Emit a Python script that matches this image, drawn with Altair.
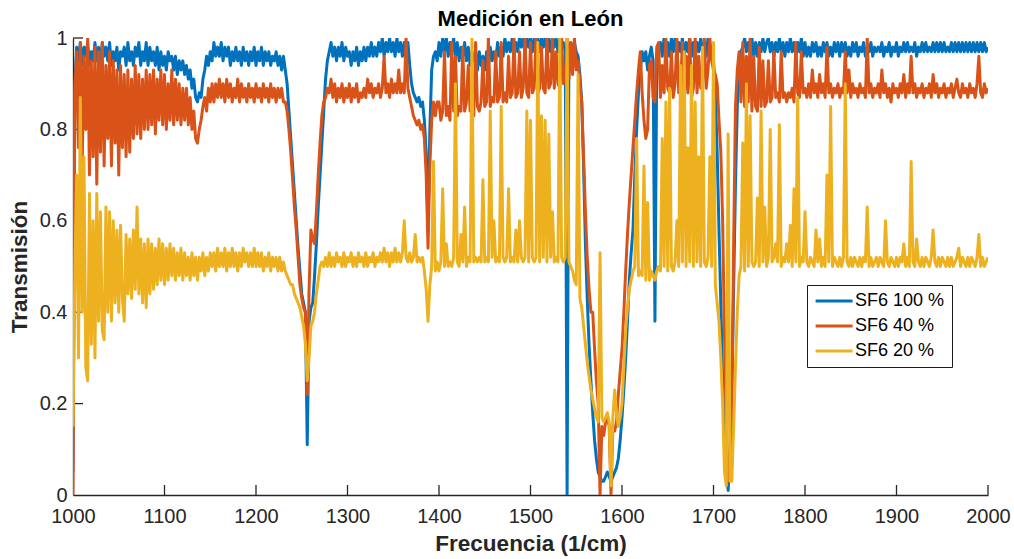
import altair as alt
import pandas as pd

FREQ_START = 1000
FREQ_STEP = 2  # cm^-1 between samples

# Transmission values in percent, one value every 2 cm^-1.
# Each row = 20 samples = 40 cm^-1; each array = 200 cm^-1.
blue_1000 = [5, 90, 98, 95, 99, 94, 98, 96, 99, 94, 97, 95, 99, 95, 98, 94, 99, 96, 98, 95,
             99, 94, 97, 95, 98, 93, 97, 96, 98, 94, 99, 95, 97, 94, 98, 96, 99, 94, 97, 95,
             99, 94, 98, 95, 97, 94, 98, 93, 97, 94, 96, 93, 97, 95, 96, 93, 96, 92, 95, 93,
             95, 92, 94, 91, 93, 89, 91, 87, 86, 88, 87, 91, 93, 96, 94, 97, 95, 99, 96, 98,
             96, 99, 95, 98, 96, 98, 94, 97, 95, 98, 95, 97, 94, 98, 95, 97, 94, 97, 95, 98]
blue_1200 = [94, 97, 95, 98, 94, 97, 95, 97, 94, 96, 95, 97, 94, 96, 93, 96, 93, 90, 84, 78,
             72, 66, 60, 54, 49, 44, 42, 40, 11, 38, 41, 42, 48, 55, 63, 70, 77, 84, 91, 95,
             97, 99, 96, 98, 95, 98, 96, 99, 95, 98, 96, 97, 94, 97, 95, 98, 94, 97, 95, 98,
             95, 98, 96, 99, 96, 98, 96, 99, 97, 100, 96, 99, 97, 100, 97, 99, 96, 100, 97, 99,
             96, 99, 97, 99, 94, 90, 88, 87, 86, 87, 85, 86, 82, 75, 58, 80, 93, 96, 97, 95]
blue_1400 = [99, 96, 100, 97, 100, 96, 99, 97, 100, 96, 99, 95, 98, 96, 99, 95, 98, 94, 97, 95,
             97, 93, 97, 94, 96, 93, 97, 94, 98, 95, 97, 95, 99, 96, 98, 96, 100, 97, 99, 97,
             100, 97, 99, 97, 100, 98, 100, 97, 100, 98, 100, 97, 100, 98, 100, 97, 100, 98, 100, 97,
             100, 97, 100, 98, 100, 97, 100, 98, 99, 97, 0, 98, 99, 97, 99, 97, 96, 92, 86, 72,
             55, 43, 33, 25, 18, 12, 8, 5, 4, 3, 3, 4, 5, 4, 3, 4, 5, 6, 8, 12]
blue_1600 = [17, 23, 30, 38, 47, 53, 58, 70, 80, 88, 93, 97, 95, 97, 93, 96, 98, 95, 38, 96,
             97, 99, 96, 100, 97, 99, 96, 100, 97, 100, 96, 99, 97, 100, 96, 99, 97, 100, 96, 99,
             96, 99, 97, 100, 97, 99, 96, 100, 97, 98, 95, 88, 75, 58, 42, 25, 12, 5, 1, 8,
             22, 45, 68, 85, 93, 97, 98, 100, 97, 99, 97, 100, 96, 99, 96, 99, 97, 100, 97, 99,
             100, 97, 99, 96, 99, 97, 100, 97, 99, 96, 99, 97, 100, 97, 99, 96, 99, 97, 100, 96]
blue_1800 = [99, 96, 98, 96, 99, 97, 99, 96, 98, 96, 99, 97, 99, 96, 98, 96, 99, 97, 99, 96,
             99, 97, 99, 96, 98, 96, 99, 97, 99, 96, 98, 97, 99, 96, 98, 97, 99, 96, 98, 97,
             98, 97, 99, 96, 98, 97, 99, 96, 98, 97, 99, 96, 98, 97, 99, 97, 99, 97, 98, 97,
             99, 96, 98, 97, 99, 97, 99, 97, 98, 97, 99, 97, 99, 97, 99, 97, 99, 97, 98, 97,
             99, 97, 99, 97, 99, 97, 99, 97, 99, 97, 99, 97, 99, 97, 99, 97, 99, 97, 99, 97,
             98]

orange_1000 = [0, 88, 97, 76, 99, 72, 96, 80, 100, 70, 95, 74, 98, 68, 97, 75, 99, 72, 94, 78,
               97, 72, 95, 77, 93, 70, 94, 76, 92, 74, 93, 75, 91, 78, 94, 79, 92, 78, 91, 80,
               93, 80, 92, 81, 93, 79, 91, 82, 93, 81, 92, 80, 90, 82, 93, 81, 91, 82, 90, 81,
               89, 82, 89, 81, 87, 80, 84, 78, 77, 80, 82, 85, 87, 84, 89, 86, 90, 86, 90, 87,
               91, 87, 90, 86, 91, 87, 90, 86, 89, 87, 91, 86, 90, 87, 89, 86, 90, 87, 89, 86]
orange_1200 = [90, 87, 89, 86, 90, 87, 89, 86, 90, 87, 89, 86, 89, 87, 89, 86, 86, 84, 80, 75,
               69, 63, 58, 52, 46, 43, 41, 40, 22, 45, 58, 56, 55, 62, 70, 77, 83, 86, 87, 89,
               88, 91, 87, 90, 86, 89, 87, 90, 86, 89, 87, 90, 86, 89, 87, 90, 86, 88, 87, 89,
               87, 91, 88, 90, 87, 89, 88, 90, 87, 89, 96, 88, 90, 87, 91, 88, 90, 88, 93, 88,
               90, 88, 100, 89, 87, 85, 83, 82, 81, 82, 80, 81, 78, 70, 54, 72, 82, 86, 83, 86]
orange_1400 = [86, 82, 84, 97, 83, 85, 82, 99, 84, 96, 83, 85, 84, 98, 84, 86, 94, 84, 85, 83,
               99, 85, 84, 86, 95, 85, 86, 100, 85, 87, 86, 97, 86, 87, 99, 86, 88, 86, 96, 87,
               88, 100, 87, 88, 97, 87, 89, 100, 88, 87, 99, 88, 89, 100, 88, 89, 98, 89, 88, 100,
               89, 90, 100, 89, 97, 90, 89, 100, 90, 91, 100, 91, 99, 92, 100, 93, 95, 90, 86, 74,
               62, 52, 45, 40, 40, 32, 25, 20, 0, 15, 13, 16, 17, 15, 0, 15, 14, 16, 22, 27]
orange_1600 = [32, 40, 49, 57, 64, 70, 76, 82, 88, 93, 97, 88, 82, 78, 80, 94, 95, 87, 86, 98,
               99, 87, 94, 88, 100, 89, 88, 97, 87, 90, 100, 88, 89, 99, 87, 96, 88, 100, 87, 89,
               100, 88, 96, 89, 90, 100, 89, 93, 100, 95, 93, 92, 90, 82, 75, 60, 35, 15, 3, 8,
               18, 55, 85, 93, 97, 86, 99, 85, 96, 86, 100, 84, 96, 85, 84, 98, 85, 95, 85, 86,
               95, 86, 87, 97, 87, 88, 86, 97, 87, 88, 86, 88, 87, 89, 86, 99, 88, 87, 97, 88]
orange_1800 = [89, 87, 90, 87, 93, 88, 90, 87, 92, 88, 90, 87, 98, 88, 90, 87, 89, 88, 90, 87,
               89, 88, 97, 88, 93, 87, 90, 88, 89, 87, 90, 88, 89, 87, 100, 88, 90, 87, 89, 88,
               90, 87, 93, 88, 90, 87, 89, 86, 90, 88, 89, 87, 90, 88, 92, 87, 90, 88, 96, 88,
               90, 87, 89, 88, 90, 87, 89, 88, 90, 87, 92, 88, 90, 87, 89, 88, 90, 87, 89, 88,
               90, 87, 89, 91, 88, 87, 90, 88, 89, 87, 90, 88, 89, 87, 90, 96, 88, 87, 90, 88,
               89]

yellow_1000 = [15, 48, 70, 30, 87, 40, 74, 28, 25, 66, 33, 60, 30, 66, 38, 62, 36, 34, 63, 40,
               62, 38, 60, 42, 58, 40, 59, 43, 38, 57, 44, 56, 43, 58, 45, 63, 44, 56, 42, 55,
               41, 56, 44, 55, 45, 54, 46, 56, 47, 55, 46, 54, 47, 55, 48, 54, 47, 53, 48, 54,
               47, 53, 48, 52, 47, 53, 48, 52, 47, 52, 49, 53, 48, 52, 49, 53, 50, 53, 49, 54,
               50, 53, 50, 54, 49, 53, 50, 54, 50, 53, 49, 53, 50, 54, 51, 53, 50, 53, 50, 54]
yellow_1200 = [50, 53, 50, 53, 49, 52, 50, 53, 49, 52, 50, 52, 49, 52, 49, 51, 49, 48, 47, 46,
               46, 44, 43, 42, 41, 39, 37, 33, 25, 30, 37, 38, 40, 44, 47, 50, 51, 50, 52, 50,
               53, 50, 52, 50, 53, 51, 52, 50, 53, 50, 52, 51, 53, 50, 52, 50, 53, 51, 52, 50,
               53, 50, 52, 51, 53, 50, 52, 51, 53, 51, 54, 51, 53, 50, 53, 51, 54, 51, 53, 51,
               53, 60, 52, 51, 53, 51, 52, 57, 51, 52, 51, 52, 49, 45, 38, 46, 50, 73, 49, 51]
yellow_1400 = [49, 51, 67, 50, 55, 50, 51, 50, 52, 90, 51, 50, 57, 51, 63, 50, 52, 51, 100, 51,
               52, 51, 52, 51, 69, 51, 52, 51, 84, 52, 60, 51, 52, 51, 85, 52, 51, 52, 67, 51,
               52, 51, 58, 51, 60, 52, 51, 52, 84, 51, 82, 52, 51, 52, 99, 51, 83, 52, 82, 51,
               79, 52, 62, 51, 52, 51, 100, 52, 51, 52, 100, 51, 50, 49, 47, 46, 92, 43, 41, 37,
               33, 29, 26, 23, 21, 19, 17, 16, 53, 17, 16, 17, 18, 16, 2, 17, 23, 18, 15, 17]
yellow_1600 = [20, 28, 36, 41, 45, 47, 49, 50, 78, 48, 49, 48, 72, 47, 64, 47, 49, 48, 47, 49,
               50, 49, 78, 50, 86, 49, 89, 50, 49, 51, 60, 50, 94, 51, 97, 50, 76, 51, 94, 50,
               86, 51, 74, 50, 98, 51, 50, 52, 74, 50, 99, 46, 42, 38, 30, 20, 5, 2, 79, 3,
               3, 15, 28, 40, 48, 50, 77, 49, 90, 50, 83, 51, 50, 51, 65, 50, 84, 51, 63, 50,
               52, 80, 51, 52, 55, 51, 81, 50, 52, 51, 55, 51, 59, 50, 67, 51, 87, 50, 52, 51]
yellow_1800 = [62, 51, 50, 52, 51, 50, 58, 51, 56, 50, 52, 50, 70, 51, 85, 50, 52, 51, 50, 52,
               50, 52, 90, 51, 50, 52, 50, 52, 51, 50, 52, 50, 52, 51, 63, 50, 52, 50, 51, 52,
               50, 52, 51, 50, 60, 51, 50, 52, 51, 50, 52, 50, 52, 51, 55, 50, 52, 50, 73, 51,
               50, 56, 51, 50, 52, 50, 52, 51, 50, 52, 58, 51, 50, 52, 50, 52, 51, 50, 52, 50,
               52, 50, 51, 52, 54, 50, 52, 51, 50, 52, 50, 52, 51, 50, 52, 57, 50, 52, 50, 51,
               52]

blue = blue_1000 + blue_1200 + blue_1400 + blue_1600 + blue_1800
orange = orange_1000 + orange_1200 + orange_1400 + orange_1600 + orange_1800
yellow = yellow_1000 + yellow_1200 + yellow_1400 + yellow_1600 + yellow_1800

series_names = ["SF6 100 %", "SF6 40 %", "SF6 20 %"]
series_colors = ["#0072BD", "#D95319", "#EDB120"]
series_values = [blue, orange, yellow]

x_tick_values = [1000, 1100, 1200, 1300, 1400, 1500, 1600, 1700, 1800, 1900, 2000]
y_tick_values = [0, 0.2, 0.4, 0.6, 0.8, 1]

FONT = "Liberation Sans"
AXIS_COLOR = "#262626"
PLOT_W, PLOT_H = 915, 457
TICK_LEN = 10

x_scale = alt.Scale(domain=[1000, 2000], nice=False, zero=False)
y_scale = alt.Scale(domain=[0, 1], nice=False)

x_axis = alt.Axis(values=x_tick_values, format="d", tickSize=0, grid=False, labelFlush=False,
                  labelFont=FONT, labelFontSize=20, labelColor=AXIS_COLOR, labelPadding=11,
                  domainColor=AXIS_COLOR, domainWidth=1.3,
                  title="Frecuencia (1/cm)", titleFont=FONT, titleFontSize=22.5,
                  titleFontWeight="bold", titleColor=AXIS_COLOR, titlePadding=6)
y_axis = alt.Axis(values=y_tick_values, format="~g", tickSize=0, grid=False, labelFlush=False,
                  labelFont=FONT, labelFontSize=20, labelColor=AXIS_COLOR, labelPadding=6,
                  domainColor=AXIS_COLOR, domainWidth=1.3,
                  title="Transmisión", titleFont=FONT, titleFontSize=22.5,
                  titleFontWeight="bold", titleColor=AXIS_COLOR, titlePadding=8)

color_enc = alt.Color(
    "serie:N",
    scale=alt.Scale(domain=series_names, range=series_colors),
    legend=alt.Legend(title=None, orient="none", legendX=734, legendY=247,
                      strokeColor="#1a1a1a", fillColor="white", padding=7,
                      symbolType="M-1,0H4", symbolSize=219, symbolStrokeWidth=3,
                      labelFont=FONT, labelFontSize=18, labelColor="#000000",
                      labelOffset=23, rowPadding=7, labelLimit=300),
)

layers = []

# inward tick marks (drawn beneath the data, as in the original)
x_ticks = alt.Chart(pd.DataFrame({"freq": x_tick_values[1:]})).mark_rule(
    color=AXIS_COLOR, strokeWidth=1.3).encode(
    x=alt.X("freq:Q", scale=x_scale, axis=x_axis),
    y=alt.value(PLOT_H), y2=alt.value(PLOT_H - TICK_LEN))
y_ticks = alt.Chart(pd.DataFrame({"trans": y_tick_values[1:]})).mark_rule(
    color=AXIS_COLOR, strokeWidth=1.3).encode(
    y=alt.Y("trans:Q", scale=y_scale, axis=y_axis),
    x=alt.value(0), x2=alt.value(TICK_LEN))
layers += [x_ticks, y_ticks]

for name, vals in zip(series_names, series_values):
    assert len(vals) == 501, (name, len(vals))
    df = pd.DataFrame({
        "freq": [FREQ_START + FREQ_STEP * i for i in range(len(vals))],
        "trans": [v / 100 for v in vals],
        "serie": name,
    })
    layers.append(
        alt.Chart(df).mark_line(strokeWidth=3, clip=True, strokeJoin="round").encode(
            x=alt.X("freq:Q", scale=x_scale, axis=x_axis),
            y=alt.Y("trans:Q", scale=y_scale, axis=y_axis),
            color=color_enc,
        )
    )

chart = alt.layer(*layers).properties(
    width=PLOT_W, height=PLOT_H,
    title=alt.TitleParams("Medición en León", font=FONT, fontSize=22, fontWeight="bold",
                          color="#000000", offset=5, dy=8, anchor="middle"),
    autosize=alt.AutoSizeParams(type="none"),
    padding={"left": 73, "top": 38, "right": 26, "bottom": 64},
    background="white",
).configure_view(stroke=None)

chart.save("out.html", embed_options={"renderer": "svg", "actions": False})
